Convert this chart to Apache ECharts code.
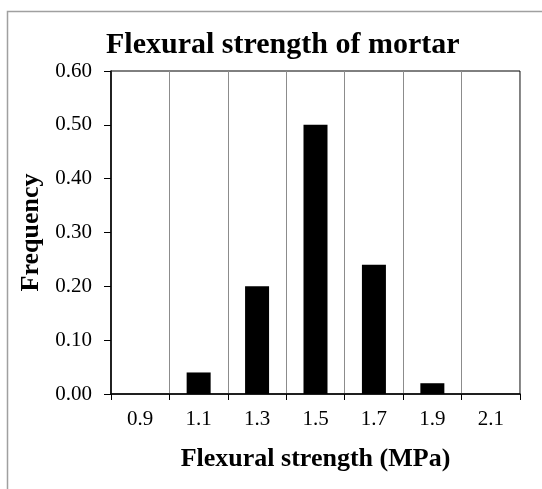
<!DOCTYPE html>
<html>
<head>
<meta charset="utf-8">
<script src="https://cdn.jsdelivr.net/npm/echarts@6/dist/echarts.min.js"></script>
<style>
  html, body { margin: 0; padding: 0; background: #fff; }
  #chart { width: 542px; height: 489px; }
</style>
</head>
<body>
<div id="chart"></div>
<script>
const categories = ['0.9', '1.1', '1.3', '1.5', '1.7', '1.9', '2.1']
const frequency = [0, 0.04, 0.20, 0.50, 0.24, 0.02, 0]

const serif = "'Liberation Serif', 'Times New Roman', serif"

const chart = echarts.init(document.getElementById('chart'), null, { renderer: 'canvas' })

chart.setOption({
  backgroundColor: '#fff',
  animation: false,
  title: {
    text: 'Flexural strength of mortar',
    left: 101,
    top: 25,
    textStyle: { fontFamily: serif, fontSize: 30, fontWeight: 'bold', color: '#000' },
  },
  graphic: [{
    type: 'rect',
    shape: { x: 7.5, y: 11.5, width: 600, height: 600 },
    style: { fill: 'none', stroke: '#a0a0a0', lineWidth: 1.5 },
    silent: true,
  }],
  grid: {
    left: 111,
    top: 71,
    width: 409,
    height: 323,
    show: true,
    borderColor: '#000',
    borderWidth: 1,
  },
  xAxis: {
    type: 'category',
    data: categories,
    boundaryGap: true,
    name: 'Flexural strength (MPa)',
    nameLocation: 'middle',
    nameGap: 52,
    nameTextStyle: { fontFamily: serif, fontSize: 26, fontWeight: 'bold', color: '#000' },
    axisLine: { lineStyle: { color: '#000', width: 1.5 } },
    axisTick: { show: true, length: 6, lineStyle: { color: '#000', width: 1 } },
    axisLabel: { fontFamily: serif, fontSize: 21, color: '#000', margin: 15 },
    splitLine: { show: true, lineStyle: { color: '#8c8c8c', width: 1 } },
  },
  yAxis: {
    type: 'value',
    min: 0,
    max: 0.6,
    interval: 0.1,
    name: 'Frequency',
    nameLocation: 'middle',
    nameGap: 63,
    nameTextStyle: { fontFamily: serif, fontSize: 26, fontWeight: 'bold', color: '#000' },
    axisLine: { show: true, lineStyle: { color: '#000', width: 1.5 } },
    axisTick: { show: true, length: 7, lineStyle: { color: '#000', width: 1 } },
    axisLabel: {
      fontFamily: serif, fontSize: 21, color: '#000', margin: 19,
      formatter: (v) => v.toFixed(2),
    },
    splitLine: { show: false },
  },
  series: [{
    type: 'bar',
    data: frequency,
    barWidth: 24,
    itemStyle: { color: '#000' },
  }],
})
</script>
</body>
</html>
